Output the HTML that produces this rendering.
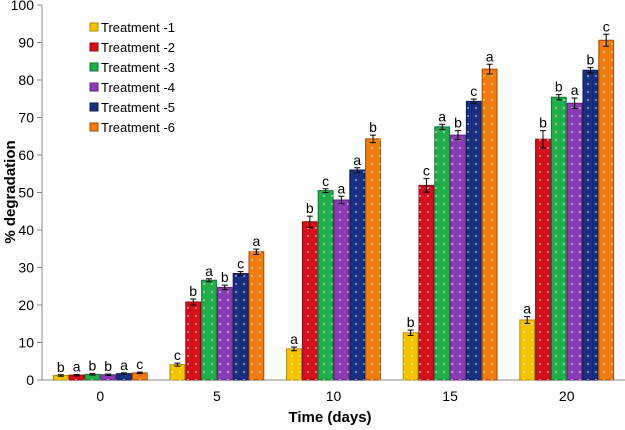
<!DOCTYPE html>
<html><head><meta charset="utf-8"><style>
body{margin:0;background:#fff;}
svg{display:block;font-family:"Liberation Sans",sans-serif;}
</style></head><body>
<svg id="chart" width="625" height="430">
<defs>
<pattern id="dots" width="8" height="8" patternUnits="userSpaceOnUse">
<circle cx="4" cy="4" r="0.9" fill="#fff" fill-opacity="0.75"/>
</pattern>
</defs>
<g id="axes"></g><g id="bars"></g><g id="legend"></g>
<text x="330" y="422" text-anchor="middle" font-size="15" font-weight="bold">Time (days)</text>
<text transform="translate(15,192) rotate(-90)" text-anchor="middle" font-size="15" font-weight="bold">% degradation</text>
</svg>
<script>
const categories=["0","5","10","15","20"];
const seriesNames=["Treatment -1","Treatment -2","Treatment -3","Treatment -4","Treatment -5","Treatment -6"];
const t1=[1.2,4.1,8.3,12.6,16.0];
const t2=[1.3,20.8,42.2,51.9,64.2];
const t3=[1.5,26.6,50.5,67.5,75.4];
const t4=[1.4,24.7,48.0,65.3,73.8];
const t5=[1.7,28.4,56.0,74.3,82.6];
const t6=[1.9,34.2,64.3,82.9,90.6];
const e1=[0.2,0.4,0.5,0.7,0.9];
const e2=[0.2,0.8,1.5,1.8,2.3];
const e3=[0.2,0.4,0.5,0.7,0.7];
const e4=[0.2,0.6,1.0,1.2,1.4];
const e5=[0.2,0.5,0.6,0.6,0.7];
const e6=[0.2,0.7,1.0,1.3,1.6];
const l1=["b","c","a","b","a"];
const l2=["a","b","b","c","b"];
const l3=["b","a","c","a","b"];
const l4=["b","b","a","b","a"];
const l5=["a","c","a","c","b"];
const l6=["c","a","b","a","c"];
const yTicks=[0,10,20,30,40,50,60,70,80,90,100];
const colors=["#f5c400","#d4101c","#20ad4a","#8a3db2","#1b2f80","#f07c10"];
const strokes=["#b08a00","#8a0a10","#137030","#5a2478","#0e1a50","#a04a08"];
const series=[t1,t2,t3,t4,t5,t6],errs=[e1,e2,e3,e4,e5,e6],lets=[l1,l2,l3,l4,l5,l6];
const NS="http://www.w3.org/2000/svg";
const X0=42,X1=625,Y0=380,Y1=5;
const y=v=>Y0-(v/100)*(Y0-Y1);
const band=(X1-X0)/categories.length;
const xc=i=>X0+band*(i+0.5);
const bw=15.8;
function mk(tag,attrs,parent,txt){const e=document.createElementNS(NS,tag);for(const k in attrs)e.setAttribute(k,attrs[k]);if(txt!==undefined)e.textContent=txt;parent.appendChild(e);return e;}
const ax=document.getElementById('axes');
let a=mk('line',{x1:X0,y1:Y1,x2:X0,y2:Y0,stroke:'#888','stroke-width':1},ax);


a=mk('line',{x1:X0,y1:Y0,x2:X1,y2:Y0,stroke:'#888','stroke-width':1},ax);


yTicks.forEach(t=>{
 mk('line',{x1:X0-5,y1:y(t),x2:X0,y2:y(t),stroke:'#888'},ax);
 const tx=mk('text',{x:X0-8,y:y(t)+5,'text-anchor':'end','font-size':14},ax,String(t));
 
 
});
categories.forEach((c,i)=>{
 const tx=mk('text',{x:xc(i),y:401,'text-anchor':'middle','font-size':14},ax,c);
 
 
});
const bg=document.getElementById('bars');
categories.forEach((c,i)=>{
 series.forEach((s,j)=>{
  const x=xc(i)-3*bw+j*bw, v=s[i], top=y(v);
  const r=mk('rect',{x:x+0.5,y:top,width:bw-1,height:Y0-top,fill:colors[j],stroke:strokes[j],'stroke-width':1},bg);
  
  
  mk('rect',{x:x+0.5,y:top,width:bw-1,height:Y0-top,fill:'url(#dots)'},bg);
  const e=errs[j][i],cx=x+bw/2;
  const eb=mk('path',{d:`M${cx-3},${y(v+e)}H${cx+3}M${cx},${y(v+e)}V${y(v-e)}M${cx-3},${y(v-e)}H${cx+3}`,stroke:'#000','stroke-width':1,fill:'none'},bg);
  
  
  const lt=mk('text',{x:cx,y:y(v+e)-3,'text-anchor':'middle','font-size':14},bg,lets[j][i]);
  
  
 });
});
const lg=document.getElementById('legend');
seriesNames.forEach((n,j)=>{
 const yy=28+j*20;
 const g=mk('g',{},lg);
 
 
 mk('rect',{x:90,y:yy-5,width:8,height:8,fill:colors[j],stroke:strokes[j]},g);
 mk('text',{x:101,y:yy+4,'font-size':13},g,n);
});
</script>
</body></html>
